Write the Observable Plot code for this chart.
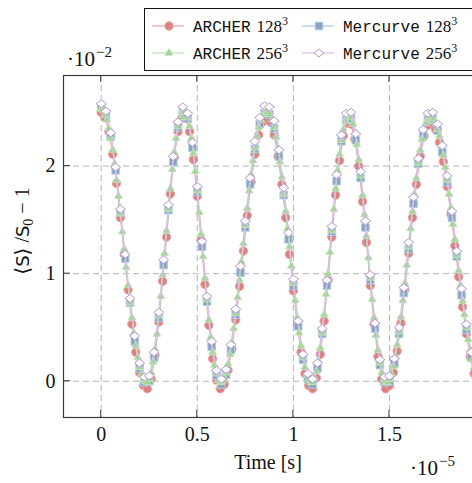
<!DOCTYPE html>
<html><head><meta charset="utf-8">
<script src="https://cdn.jsdelivr.net/npm/d3@7"></script>
<script src="https://cdn.jsdelivr.net/npm/@observablehq/plot@0.6"></script>
<style>
html,body{margin:0;padding:0;overflow:hidden;background:#fff;}
#chart{width:472px;height:483px;overflow:hidden;position:relative;}
</style></head><body><div id="chart"></div>
<script>
// Time in units of 1e-5 s, <S>/S0 - 1 in units of 1e-2
const stepArcher128 = 0.02;
const stepArcher256 = 0.01;
const stepMercurve = 0.025;

const archer128 = [2.50,2.45,2.32,2.11,1.84,1.52,1.18,0.85,0.53,0.27,0.08,-0.04,
 -0.07,0.02,0.24,0.55,0.93,1.34,1.74,2.08,2.32,2.45,2.45,2.32,2.06,1.72,1.31,0.90,0.52,0.21,0.01,-0.07,
 -0.03,0.10,0.30,0.57,0.88,1.21,1.54,1.85,2.11,2.29,2.41,2.43,2.41,2.29,2.09,1.83,1.52,1.18,0.84,0.53,0.27,0.07,-0.04,
 -0.07,0.03,0.25,0.56,0.94,1.34,1.73,2.05,2.28,2.40,2.39,2.25,2.00,1.67,1.29,0.89,0.53,0.23,0.02,-0.07,
 -0.04,0.08,0.28,0.54,0.85,1.19,1.52,1.83,2.09,2.28,2.38,2.40,2.34,2.22,2.04,1.81,1.55,1.26,0.97,0.69,0.44,0.23,0.07];

const archer256 = [2.53,2.52,2.48,2.43,2.35,2.26,2.15,2.02,1.87,1.72,1.56,1.39,1.23,1.06,0.89,0.73,0.59,0.45,0.33,0.22,0.13,0.07,0.02,0.00,
 -0.01,0.02,0.08,0.18,0.30,0.44,0.61,0.79,0.99,1.19,1.40,1.60,1.79,1.97,2.13,2.26,2.37,2.45,2.50,2.52,
 2.50,2.45,2.37,2.26,2.12,1.95,1.77,1.57,1.37,1.16,0.96,0.76,0.57,0.41,0.27,0.15,0.07,0.01,-0.01,
 0.00,0.03,0.08,0.16,0.25,0.36,0.49,0.63,0.78,0.94,1.11,1.28,1.45,1.61,1.77,1.92,2.05,2.17,2.28,2.36,2.43,2.48,2.50,
 2.50,2.50,2.48,2.43,2.36,2.27,2.16,2.04,1.90,1.74,1.58,1.42,1.25,1.07,0.91,0.75,0.59,0.45,0.33,0.22,0.13,0.06,0.02,-0.01,
 -0.01,0.03,0.09,0.19,0.31,0.45,0.62,0.81,1.00,1.20,1.40,1.60,1.79,1.96,2.11,2.24,2.34,2.42,2.46,
 2.47,2.45,2.39,2.31,2.20,2.06,1.91,1.73,1.55,1.35,1.15,0.96,0.76,0.59,0.43,0.29,0.17,0.08,0.02,-0.01,
 -0.01,0.02,0.07,0.14,0.23,0.34,0.46,0.60,0.75,0.91,1.08,1.25,1.42,1.58,1.74,1.89,2.03,2.15,2.25,2.34,2.40,2.44,2.46,
 2.46,2.44,2.40,2.34,2.28,2.19,2.10,1.99,1.87,1.74,1.61,1.46,1.32,1.17,1.03,0.89,0.75,0.62,0.50,0.39,0.29,0.20,0.13];

const mercurve128 = [2.55,2.48,2.27,1.96,1.57,1.14,0.73,0.37,0.12,-0.01,
 0.00,0.22,0.59,1.08,1.59,2.04,2.36,2.50,2.44,2.17,1.76,1.25,0.74,0.32,0.05,
 -0.03,0.06,0.29,0.62,1.01,1.43,1.83,2.16,2.39,2.49,2.48,2.35,2.09,1.73,1.32,0.89,0.51,0.20,0.02,
 -0.03,0.12,0.44,0.89,1.39,1.86,2.23,2.43,2.44,2.24,1.89,1.43,0.94,0.49,0.15,-0.01,
 0.00,0.16,0.44,0.82,1.23,1.65,2.02,2.28,2.43,2.44,2.33,2.13,1.85,1.52,1.16,0.80,0.48,0.22,0.05];

const mercurve256 = [2.58,2.51,2.31,1.99,1.60,1.18,0.77,0.42,0.17,0.04,
 0.05,0.27,0.64,1.13,1.64,2.09,2.41,2.55,2.49,2.22,1.81,1.30,0.79,0.37,0.10,
 0.02,0.11,0.34,0.67,1.07,1.49,1.89,2.23,2.45,2.56,2.55,2.42,2.15,1.80,1.38,0.95,0.56,0.25,0.07,
 0.02,0.17,0.49,0.94,1.44,1.92,2.29,2.49,2.50,2.30,1.95,1.49,0.99,0.54,0.20,0.04,
 0.05,0.21,0.50,0.87,1.29,1.71,2.07,2.34,2.49,2.50,2.39,2.19,1.91,1.58,1.21,0.86,0.53,0.27,0.10];

const codeNames = ["ARCHER", "Mercurve", "ARCHER", "Mercurve"];
const resolutions = ["128", "128", "256", "256"];
const xTicks = [0, 0.5, 1, 1.5];
const xTickLabels = ["0", "0.5", "1", "1.5"];
const yTicks = [0, 1, 2];
const yTickLabels = ["0", "1", "2"];
const xDomain = [-0.196, 2.0256];
const yDomain = [-0.337, 2.842];

const serif = "'Liberation Serif', 'DejaVu Serif', serif";
const mono = "'Liberation Mono', 'DejaVu Sans Mono', monospace";
const sans = "'DejaVu Sans', 'Liberation Sans', sans-serif";

const squareSym = {draw(ctx, size){ const r = Math.sqrt(size/Math.PI), h = r*0.95;
  ctx.moveTo(-h,-h); ctx.lineTo(h,-h); ctx.lineTo(h,h); ctx.lineTo(-h,h); ctx.closePath(); }};
const triSym = {draw(ctx, size){ const R = Math.sqrt(size/Math.PI)*1.2;
  ctx.moveTo(0,-R); ctx.lineTo(R*0.866, R*0.5); ctx.lineTo(-R*0.866, R*0.5); ctx.closePath(); }};
const diaSym = {draw(ctx, size){ const r = Math.sqrt(size/Math.PI);
  ctx.moveTo(0,-r*0.8); ctx.lineTo(r,0); ctx.lineTo(0,r*0.8); ctx.lineTo(-r,0); ctx.closePath(); }};

const toRows = (vals, step) => vals.map((v, i) => ({t: +(i*step).toFixed(4), v}));

const series = [
  {values: archer128, step: stepArcher128, line: "#f2a3a3", fill: "#dc8080", stroke: "#f0a0a0", symbol: d3.symbolCircle, r: 4.2},
  {values: mercurve128, step: stepMercurve, line: "#a6c5e6", fill: "#8aa3bf", stroke: "#b0cdec", symbol: squareSym, r: 4.0},
  {values: archer256, step: stepArcher256, line: "#bce2b1", fill: "#9fd190", stroke: "#c0e5b5", symbol: triSym, r: 3.7},
  {values: mercurve256, step: stepMercurve, line: "#d5c0e8", fill: "#ffffff", stroke: "#b597d6", symbol: diaSym, r: 5.0}
];
series.forEach((s, i) => { s.data = toRows(s.values, s.step); s.name = codeNames[i]; s.res = resolutions[i]; });

const gridStyle = {stroke: "#b3b3b3", strokeOpacity: 1, strokeWidth: 1, strokeDasharray: "6,4"};

const chart = Plot.plot({
  width: 490, height: 483,
  marginLeft: 63, marginRight: 0, marginTop: 75, marginBottom: 66,
  style: {fontFamily: serif, fontSize: "20px", background: "white", color: "#111", maxWidth: "none", overflow: "visible"},
  x: {domain: xDomain},
  y: {domain: yDomain},
  marks: [
    Plot.gridX(xTicks, gridStyle),
    Plot.gridY(yTicks, gridStyle),
    ...series.flatMap(s => [
      Plot.line(s.data, {x: "t", y: "v", stroke: s.line, strokeWidth: 1.2}),
      Plot.dot(s.data, {x: "t", y: "v", symbol: s.symbol, r: s.r, fill: s.fill, stroke: s.stroke, strokeWidth: 1})
    ]),
    Plot.frame({stroke: "#3a3a3a", strokeWidth: 1.2}),
    Plot.axisX(xTicks, {anchor: "bottom", tickSize: 0, tickPadding: 9, label: null,
      tickFormat: d => xTickLabels[xTicks.indexOf(d)]}),
    Plot.axisY(yTicks, {anchor: "left", tickSize: 0, tickPadding: 8, label: null,
      tickFormat: d => yTickLabels[yTicks.indexOf(d)]})
  ]
});
document.getElementById("chart").appendChild(chart);

const svg = d3.select(chart);
const xs = chart.scale("x"), ys = chart.scale("y");
const x0 = xs.apply(xDomain[0]);
const yb = ys.apply(yDomain[0]), yt = ys.apply(yDomain[1]);

// inward tick marks
const tg = svg.append("g").attr("stroke", "#3a3a3a").attr("stroke-width", 1);
xTicks.forEach(t => {
  const px = xs.apply(t);
  tg.append("line").attr("x1", px).attr("x2", px).attr("y1", yb).attr("y2", yb - 7);
  tg.append("line").attr("x1", px).attr("x2", px).attr("y1", yt).attr("y2", yt + 7);
});
yTicks.forEach(v => {
  const py = ys.apply(v);
  tg.append("line").attr("x1", x0).attr("x2", x0 + 7).attr("y1", py).attr("y2", py);
});

// axis labels and scale multipliers
function sciLabel(x, y, exp) {
  const t = svg.append("text").attr("x", x).attr("y", y).attr("text-anchor", "start")
    .attr("font-family", serif).attr("font-size", 21).attr("fill", "#111");
  t.append("tspan").text("·10");
  t.append("tspan").attr("dy", -9).attr("dx", 1).attr("font-size", 15).text("−" + exp);
}
sciLabel(67, 66, "2");
sciLabel(410, 475, "5");

svg.append("text").attr("x", 268).attr("y", 469).attr("text-anchor", "middle")
  .attr("font-family", serif).attr("font-size", 20).attr("fill", "#111").text("Time [s]");

const yl = svg.append("text").attr("transform", "translate(29,231) rotate(-90)").attr("text-anchor", "middle")
  .attr("font-family", serif).attr("font-size", 20).attr("fill", "#111");
yl.append("tspan").text("⟨");
yl.append("tspan").attr("font-family", sans).attr("font-size", 18).text("S");
yl.append("tspan").text("⟩ /");
yl.append("tspan").attr("font-family", sans).attr("font-size", 18).text("S");
yl.append("tspan").attr("dy", 4).attr("font-size", 14).text("0");
yl.append("tspan").attr("dy", -4).text(" − 1");

// legend
const lg = svg.append("g");
lg.append("rect").attr("x", 144.5).attr("y", 8.5).attr("width", 360).attr("height", 62)
  .attr("fill", "white").attr("stroke", "#111").attr("stroke-width", 1);
const colX = [152, 302];
const rowY = [26, 53];
series.forEach((s, i) => {
  const cx = colX[i % 2], cy = rowY[Math.floor(i / 2)];
  lg.append("line").attr("x1", cx).attr("x2", cx + 32).attr("y1", cy).attr("y2", cy)
    .attr("stroke", s.line).attr("stroke-width", 1.2);
  lg.append("path").attr("transform", `translate(${cx + 17},${cy})`)
    .attr("d", d3.symbol(s.symbol, s.r * s.r * Math.PI)())
    .attr("fill", s.fill).attr("stroke", s.stroke).attr("stroke-width", 1);
  const tx = lg.append("text").attr("x", cx + 41).attr("y", cy + 5.5).attr("text-anchor", "start").attr("fill", "#111");
  tx.append("tspan").attr("font-family", mono).attr("font-size", 16).text(s.name);
  tx.append("tspan").attr("font-family", serif).attr("font-size", 17).attr("dx", 6).text(s.res);
  tx.append("tspan").attr("font-family", serif).attr("font-size", 12).attr("dy", -7).text("3");
});
</script>
</body></html>
